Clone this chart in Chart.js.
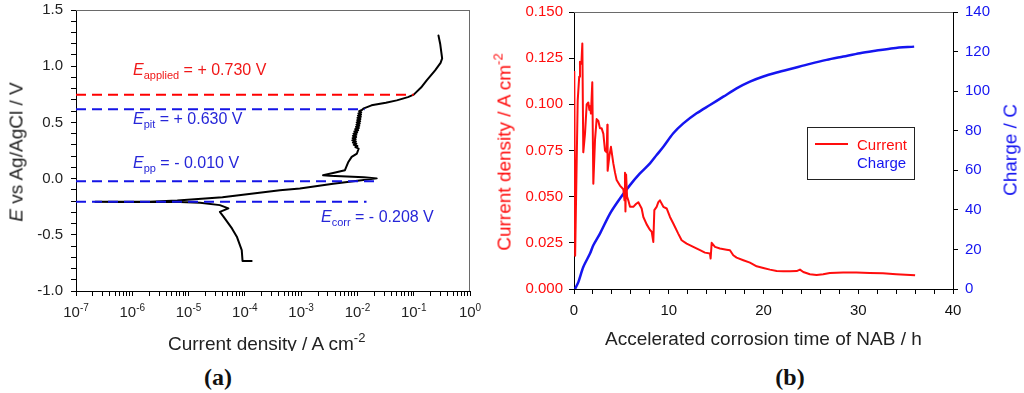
<!DOCTYPE html>
<html><head><meta charset="utf-8">
<script src="https://cdn.jsdelivr.net/npm/chart.js@4.4.1/dist/chart.umd.min.js"></script>
<style>
html,body{margin:0;padding:0;background:#fff;}
body{width:1024px;height:393px;position:relative;overflow:hidden;font-family:"Liberation Sans",Arial,sans-serif;}
canvas{position:absolute;top:0;}
.t{position:absolute;white-space:nowrap;font-size:16px;line-height:16px;}
.t sub{font-size:11px;vertical-align:-4px;line-height:0;}
.tk{position:absolute;white-space:nowrap;font-size:15px;line-height:15px;color:#222;transform:translateX(-50%);}
.tk sup{font-size:10px;vertical-align:6px;line-height:0;}
.ttl{position:absolute;white-space:nowrap;font-size:19px;line-height:19px;}
.ttl sup{font-size:13px;vertical-align:8px;line-height:0;}
.rot{position:absolute;white-space:nowrap;font-size:19px;line-height:19px;transform:translate(-50%,-50%) rotate(-90deg);}
.rot sup{font-size:13px;vertical-align:8px;line-height:0;}
.pl{position:absolute;font-family:"Liberation Serif","Times New Roman",serif;font-weight:bold;font-size:24px;line-height:24px;transform:translate(-50%,-50%);color:#111;}
.lg{position:absolute;white-space:nowrap;font-size:15px;line-height:15px;}
</style></head><body>
<canvas id="ca" width="490" height="360" style="left:0px"></canvas>
<canvas id="cb" width="534" height="360" style="left:490px"></canvas>
<div id="overlay"></div>
<script>
// ---------- Panel (a): potentiodynamic polarisation curve ----------
const polCurrent = [
  1.32e-4, 9.1e-5, 8.8e-5, 7.2e-5, 5.9e-5, 4.2e-5, 3.6e-5, 5.1e-5, 3.6e-5, 1.6e-5,
  7e-6, 2e-6, 6e-7, 2.2e-7, 6e-7, 2e-6, 6.3e-6, 4e-5, 4.2e-4, 9.5e-4,
  3.7e-3, 1e-2, 2.2e-2, 1.3e-2, 6.5e-3, 3.2e-3, 2.45e-3, 3.7e-3, 6e-3, 6.9e-3,
  7.9e-3, 9.8e-3, 1.05e-2, 9.2e-3, 1.0e-2, 8.6e-3, 9.6e-3, 8.3e-3, 9.4e-3, 8.1e-3,
  9.3e-3, 8.2e-3, 9.5e-3, 8.3e-3, 9.6e-3, 8.5e-3, 9.9e-3, 8.8e-3, 1.03e-2, 9.1e-3,
  1.06e-2, 9.4e-3, 1.08e-2, 9.6e-3, 1.1e-2, 9.7e-3, 1.12e-2, 9.9e-3, 1.13e-2, 1.0e-2,
  1.15e-2, 1.02e-2, 1.16e-2, 1.04e-2, 1.17e-2, 1.07e-2, 1.2e-2, 1.3e-2, 1.78e-2, 3.2e-2,
  5.0e-2, 7.9e-2, 0.1, 0.135, 0.17, 0.24, 0.30, 0.32, 0.31, 0.295, 0.275
];
const polPotential = [
  -0.733, -0.733, -0.636, -0.517, -0.443, -0.34, -0.296, -0.265, -0.236, -0.215,
  -0.209, -0.208, -0.208, -0.207, -0.206, -0.205, -0.195, -0.165, -0.103, -0.088,
  -0.045, -0.02, 0.002, 0.012, 0.018, 0.025, 0.030, 0.050, 0.075, 0.148,
  0.193, 0.223, 0.267, 0.28, 0.29, 0.30, 0.31, 0.32, 0.33, 0.34,
  0.35, 0.36, 0.37, 0.38, 0.39, 0.40, 0.41, 0.42, 0.43, 0.44,
  0.45, 0.46, 0.47, 0.48, 0.49, 0.50, 0.51, 0.52, 0.53, 0.54,
  0.55, 0.56, 0.57, 0.58, 0.59, 0.60, 0.61, 0.625, 0.652, 0.675,
  0.696, 0.725, 0.747, 0.81, 0.874, 0.963, 1.03, 1.07, 1.12, 1.2, 1.274
];
// reference (dashed) potentials and where each dashed line ends (A cm-2)
const refLevels = [0.747, 0.616, -0.023, -0.207];
const refEnds = [0.1, 0.0135, 0.022, 0.0145];
const refIsApplied = [true, false, false, false];
const decadeExponents = [-7, -6, -5, -4, -3, -2, -1, 0];
const minorSignificands = [1, 2, 3, 4, 5, 6, 7, 8, 9];

// ---------- Panel (b): current and charge vs time ----------
const timeCurrent = [
  0.03, 0.12, 0.39, 0.55, 0.63, 0.78, 0.88, 0.98, 1.16, 1.34,
  1.51, 1.62, 1.69, 1.79, 1.93, 2.04, 2.22, 2.39, 2.57, 2.74,
  2.92, 3.10, 3.27, 3.45, 3.52, 3.55, 3.73, 3.90, 4.15, 4.33,
  4.50, 4.85, 5.21, 5.33, 5.38, 5.43, 5.50, 5.60, 5.73, 5.91,
  6.26, 6.54, 6.79, 7.14, 7.32, 7.67, 8.02, 8.20, 8.37, 8.48,
  8.72, 8.90, 9.07, 9.43, 9.78, 10.13, 10.48, 11.0, 11.36, 11.89,
  12.59, 13.3, 13.82, 14.35, 14.42, 14.53, 14.88, 15.4, 16.1, 16.46,
  16.81, 17.16, 17.87, 18.57, 19.28, 19.98, 20.68, 21.39, 22.1, 22.8,
  23.5, 23.85, 24.2, 24.9, 25.6, 26.3, 27.0, 28.4, 29.8, 31.2,
  32.6, 34.0, 35.5, 36.0
];
const currentDensity = [
  0.118, 0.018, 0.102, 0.115, 0.123, 0.122, 0.133, 0.074, 0.084, 0.100,
  0.101, 0.097, 0.099, 0.095, 0.112, 0.057, 0.081, 0.092, 0.091, 0.087,
  0.087, 0.084, 0.075, 0.074, 0.089, 0.064, 0.072, 0.077, 0.068, 0.063,
  0.059, 0.056, 0.054, 0.048, 0.063, 0.042, 0.062, 0.050, 0.048, 0.0445,
  0.0445, 0.046, 0.047, 0.0436, 0.039, 0.035, 0.032, 0.031, 0.0255, 0.0427,
  0.0445, 0.047, 0.048, 0.0445, 0.0436, 0.039, 0.0355, 0.030, 0.0264, 0.0246,
  0.0228, 0.021, 0.0197, 0.0192, 0.0165, 0.025, 0.0228, 0.0219, 0.0213, 0.021,
  0.0183, 0.017, 0.0156, 0.0143, 0.0123, 0.0114, 0.0105, 0.0098, 0.0096, 0.0096,
  0.0097, 0.0105, 0.0092, 0.008, 0.0076, 0.008, 0.0087, 0.0089, 0.009, 0.0087,
  0.0085, 0.008, 0.0076, 0.0074
];
const timeCharge = [
  0.1, 0.46, 0.98, 1.69, 2.04, 2.74, 3.80, 4.85, 5.91, 6.96,
  8.02, 8.72, 9.43, 10.48, 11.54, 12.94, 14.35, 15.76, 17.16, 18.57,
  19.98, 21.39, 23.14, 24.9, 26.66, 28.42, 30.18, 31.94, 33.7, 35.9
];
const charge = [
  0, 3.5, 11.1, 17.9, 22.1, 28.0, 38.1, 45.7, 52.5, 58.4,
  63.5, 67.7, 71.9, 78.7, 83.7, 88.8, 93.0, 97.2, 101.4, 104.8,
  107.4, 109.4, 111.6, 113.8, 115.8, 117.5, 119.2, 120.5, 121.7, 122.5
];
const legendLabels = ['Current', 'Charge'];

// ---------- common ----------
Chart.defaults.font.family = '"Liberation Sans", Arial, sans-serif';
Chart.defaults.font.size = 15;
const RED = '#ff0d0d', BLUE = '#1515f0', TXTBLUE = '#2626d8';

const framePlugin = {
  id: 'frame',
  afterDraw(chart, args, opts) {
    const {ctx, chartArea: a} = chart;
    ctx.save();
    ctx.strokeStyle = opts.color || '#555';
    ctx.lineWidth = 1;
    ctx.beginPath();
    if (opts.top) { ctx.moveTo(a.left, Math.round(a.top) + 0.5); ctx.lineTo(a.right, Math.round(a.top) + 0.5); }
    if (opts.right) { ctx.moveTo(Math.round(a.right) - 0.5, a.top); ctx.lineTo(Math.round(a.right) - 0.5, a.bottom); }
    ctx.stroke();
    ctx.restore();
  }
};

const gridCfg = {drawOnChartArea: false, tickLength: 5, color: '#000', lineWidth: 1};

// ---------- Chart (a) ----------
const dsA = refLevels.map((lv, i) => ({
  data: [{x: 1e-7, y: lv}, {x: refEnds[i], y: lv}],
  borderColor: refIsApplied[i] ? '#ff0000' : '#1414e6',
  borderDash: [10, 6], borderWidth: 2, showLine: true, pointRadius: 0
}));
dsA.push({
  data: polCurrent.map((c, i) => ({x: c, y: polPotential[i]})),
  borderColor: '#000', borderWidth: 2, showLine: true, pointRadius: 0, tension: 0,
  borderJoinStyle: 'round', borderCapStyle: 'round'
});

const chartA = new Chart(document.getElementById('ca'), {
  type: 'scatter',
  data: {datasets: dsA},
  options: {
    responsive: false, animation: false, devicePixelRatio: 1,
    layout: {padding: {left: 0, top: 10, right: 20, bottom: 0}},
    plugins: {legend: {display: false}, tooltip: {enabled: false}, frame: {top: true, right: true, color: '#6a6a6a'}},
    scales: {
      x: {
        type: 'logarithmic', min: 1e-7, max: 1,
        afterBuildTicks: s => {
          const t = [];
          decadeExponents.forEach(e => {
            if (e === 0) { t.push({value: 1}); return; }
            minorSignificands.forEach(k => t.push({value: k * Math.pow(10, e)}));
          });
          s.ticks = t;
        },
        ticks: {display: false},
        grid: gridCfg, border: {color: '#000', width: 1},
        afterFit: s => { s.height = 69; s.paddingLeft = 0; s.paddingRight = 0; }
      },
      y: {
        min: -1, max: 1.5,
        ticks: {stepSize: 0.1, autoSkip: false, color: '#222', padding: 8,
          callback: v => Math.abs(v * 2 - Math.round(v * 2)) < 1e-6 ? (Math.abs(v) < 1e-9 ? '0.0' : v.toFixed(1)) : ''},
        grid: gridCfg, border: {color: '#000', width: 1},
        afterFit: s => { s.width = 76; s.paddingTop = 0; s.paddingBottom = 0; }
      }
    }
  },
  plugins: [framePlugin]
});

// ---------- Chart (b) ----------
const chartB = new Chart(document.getElementById('cb'), {
  type: 'scatter',
  data: {datasets: [
    {label: legendLabels[0], data: timeCurrent.map((t, i) => ({x: t, y: currentDensity[i]})), yAxisID: 'y',
     borderColor: RED, borderWidth: 2, showLine: true, pointRadius: 0, tension: 0, borderJoinStyle: 'round'},
    {label: legendLabels[1], data: timeCharge.map((t, i) => ({x: t, y: charge[i]})), yAxisID: 'y2',
     borderColor: BLUE, borderWidth: 2.5, showLine: true, pointRadius: 0, tension: 0.3}
  ]},
  options: {
    responsive: false, animation: false, devicePixelRatio: 1,
    layout: {padding: {left: 0, top: 12, right: 0, bottom: 0}},
    plugins: {legend: {display: false}, tooltip: {enabled: false}, frame: {top: true, right: false, color: '#6a6a6a'}},
    scales: {
      x: {
        type: 'linear', min: 0, max: 40,
        ticks: {stepSize: 2, autoSkip: false, maxRotation: 0, color: '#111', padding: 8,
          callback: v => (Math.round(v) % 10 === 0 ? String(Math.round(v)) : '')},
        grid: gridCfg, border: {color: '#000', width: 1},
        afterFit: s => { s.height = 71; s.paddingLeft = 0; s.paddingRight = 0; }
      },
      y: {
        position: 'left', min: 0, max: 0.15,
        ticks: {stepSize: 0.025, color: RED, padding: 6, callback: v => v.toFixed(3)},
        grid: gridCfg, border: {color: '#000', width: 1},
        afterFit: s => { s.width = 84; s.paddingTop = 0; s.paddingBottom = 0; }
      },
      y2: {
        position: 'right', min: 0, max: 140,
        ticks: {stepSize: 20, color: BLUE, padding: 7},
        grid: gridCfg, border: {color: '#000', width: 1},
        afterFit: s => { s.width = 71; s.paddingTop = 0; s.paddingBottom = 0; }
      }
    }
  },
  plugins: [framePlugin]
});

// ---------- HTML text overlay ----------
const ov = document.getElementById('overlay');
function add(cls, html, style) {
  const d = document.createElement('div');
  d.className = cls; d.innerHTML = html; d.style.cssText += style;
  ov.appendChild(d); return d;
}
// log tick labels of panel (a), placed with the library's own scale
decadeExponents.forEach(e => {
  const px = chartA.scales.x.getPixelForValue(Math.pow(10, e));
  add('tk', '10<sup>' + e + '</sup>', `left:${px}px;top:304px;`);
});
// annotations panel (a)
add('t', '<i>E</i><sub>applied</sub> = + 0.730 V', `left:133px;top:62px;color:#f01818;`);
add('t', '<i>E</i><sub>pit</sub> = + 0.630 V', `left:133px;top:111px;color:${TXTBLUE};`);
add('t', '<i>E</i><sub>pp</sub> = - 0.010 V', `left:133px;top:155px;color:${TXTBLUE};`);
add('t', '<i>E</i><sub>corr</sub> = - 0.208 V', `left:321px;top:209px;color:${TXTBLUE};`);
// axis titles
add('rot', '<i>E</i> vs Ag/AgCl / V', 'left:16px;top:152px;color:#222;');
const clip = add('', '', 'position:absolute;left:150px;top:320px;width:260px;height:31px;overflow:hidden;');
const xt = document.createElement('div');
xt.className = 'ttl'; xt.style.cssText = 'left:18px;top:14px;color:#222;';
xt.innerHTML = 'Current density / A cm<sup>-2</sup>';
clip.appendChild(xt);
add('ttl', 'Accelerated corrosion time of NAB / h', 'left:605px;top:329px;color:#222;');
add('rot', 'Current density / A cm<sup>-2</sup>', `left:504px;top:152px;color:${RED};`);
add('rot', 'Charge / C', `left:1010px;top:150px;color:${BLUE};`);
// panel labels
add('pl', '(a)', 'left:218px;top:377px;');
add('pl', '(b)', 'left:790px;top:377px;');
// legend panel (b)
add('', '', 'position:absolute;left:807px;top:127px;width:106px;height:51px;border:1px solid #222;');
add('', '', `position:absolute;left:815px;top:143px;width:33px;height:2px;background:${RED};`);
add('lg', legendLabels[0], `left:857px;top:137px;color:${RED};`);
add('lg', legendLabels[1], `left:857px;top:155px;color:${BLUE};`);
</script>
</body></html>
